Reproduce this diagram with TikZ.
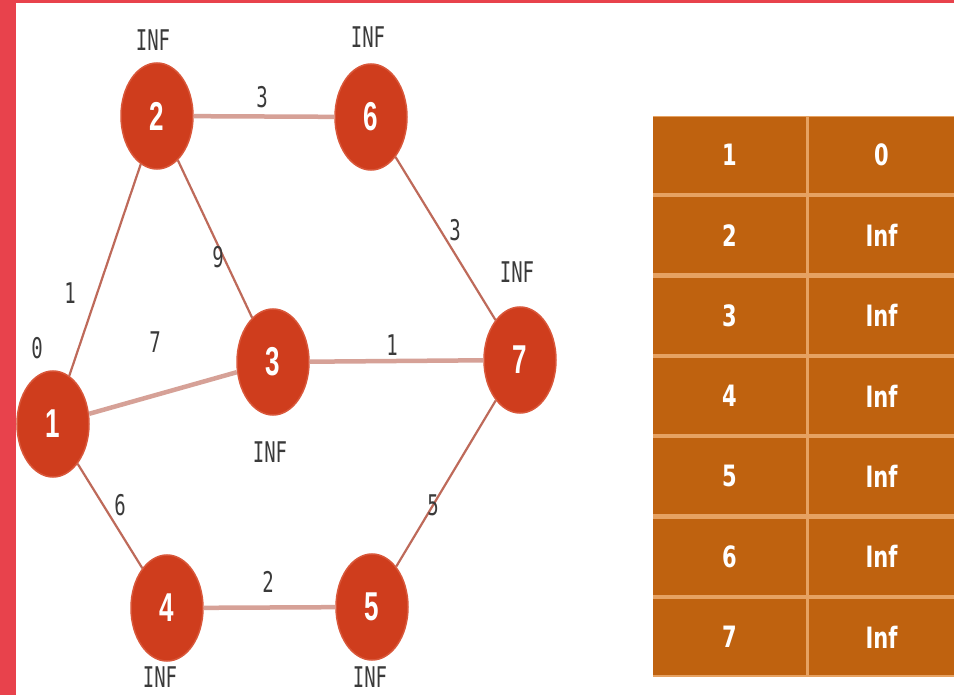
\documentclass[tikz,border=0pt]{standalone}
\usepackage{fontspec}
\setmainfont{Liberation Sans}
\newfontfamily\monof{DejaVu Sans Mono}
\newfontfamily\tabf{DejaVu Sans}
\usetikzlibrary{shapes.geometric}
\definecolor{bordred}{HTML}{E8424C}
\definecolor{vtxfill}{HTML}{CF3D1D}
\definecolor{vtxline}{HTML}{D9573A}
\definecolor{edgethin}{HTML}{BE6A5A}
\definecolor{edgethick}{HTML}{D6A197}
\definecolor{tabfill}{HTML}{BF620F}
\definecolor{tabline}{HTML}{E6A262}
\definecolor{labgray}{HTML}{3A3A3A}
\newcommand{\tallv}[1]{\scalebox{1}[1.55]{#1}}
\newcommand{\tallt}[1]{\scalebox{1}[1.5]{#1}}
\newcommand{\tallc}[1]{\scalebox{1}[1.4]{#1}}
\tikzset{
  vtx/.style={ellipse, fill=vtxfill, draw=vtxline, line width=1.5pt,
    minimum width=72pt, minimum height=106pt, inner sep=0pt,
    text=white, font=\fontsize{26}{26}\selectfont\bfseries},
  thinedge/.style={draw=edgethin, line width=2.2pt},
  thickedge/.style={draw=edgethick, line width=4.5pt},
  lab/.style={inner sep=0pt, text=labgray, font=\monof\fontsize{19}{19}\selectfont},
  cellbox/.style={fill=tabfill, inner sep=0pt, minimum height=76pt,
    text=white, font=\tabf\bfseries\fontsize{21}{21}\selectfont},
  cellA/.style={cellbox, minimum width=153pt},
  cellB/.style={cellbox, minimum width=146pt}
}
\begin{document}
\begin{tikzpicture}[x=1pt,y=-1pt]
\useasboundingbox (0,0) rectangle (954,695);
\fill[white] (0,0) rectangle (954,695);
\fill[bordred] (0,0) rectangle (16,695);
\fill[bordred] (0,0) rectangle (954,3);

% vertices
\node[vtx] (n1) at (53,424) {\tallv{1}};
\node[vtx] (n2) at (157,116) {\tallv{2}};
\node[vtx] (n6) at (371,117) {\tallv{6}};
\node[vtx] (n3) at (273,362) {\tallv{3}};
\node[vtx] (n7) at (520,360) {\tallv{7}};
\node[vtx] (n4) at (167,608) {\tallv{4}};
\node[vtx] (n5) at (372,607) {\tallv{5}};

% edges
\draw[thickedge] (n2) -- (n6);
\draw[thickedge] (n3) -- (n7);
\draw[thickedge] (n4) -- (n5);
\draw[thickedge] (n1) -- (n3);
\draw[thinedge] (n1) -- (n2);
\draw[thinedge] (n2) -- (n3);
\draw[thinedge] (n6) -- (n7);
\draw[thinedge] (n1) -- (n4);
\draw[thinedge] (n5) -- (n7);

% edge weights
\node[lab] (w26) at (262,97) {\tallt{3}};
\node[lab] (w23) at (218,257) {\tallt{9}};
\node[lab] (w12) at (70,293) {\tallt{1}};
\node[lab] (w13) at (155,342) {\tallt{7}};
\node[lab] (w37) at (392,345) {\tallt{1}};
\node[lab] (w67) at (455,230) {\tallt{3}};
\node[lab] (w14) at (120,505) {\tallt{6}};
\node[lab] (w45) at (268,582) {\tallt{2}};
\node[lab] (w57) at (433,505) {\tallt{5}};

% distance labels
\node[lab] (d1) at (37,348) {\tallt{0}};
\node[lab] (d2) at (153,40) {\tallt{INF}};
\node[lab] (d6) at (368,37) {\tallt{INF}};
\node[lab] (d7) at (517,272) {\tallt{INF}};
\node[lab] (d3) at (270,452) {\tallt{INF}};
\node[lab] (d4) at (160,677) {\tallt{INF}};
\node[lab] (d5) at (370,677) {\tallt{INF}};

% table
\fill[tabline] (653,116) rectangle (954,677);
\foreach \k/\v/\d in {0/1/0, 1/2/Inf, 2/3/Inf, 3/4/Inf, 4/5/Inf, 5/6/Inf, 6/7/Inf}{
  \node[cellA] (ca\v) at (729.5,{155.2+80.3*\k}) {\tallc{\v}};
  \node[cellB] (cb\v) at (881.5,{155.2+80.3*\k}) {\tallc{\d}};
}
\end{tikzpicture}
\end{document}
